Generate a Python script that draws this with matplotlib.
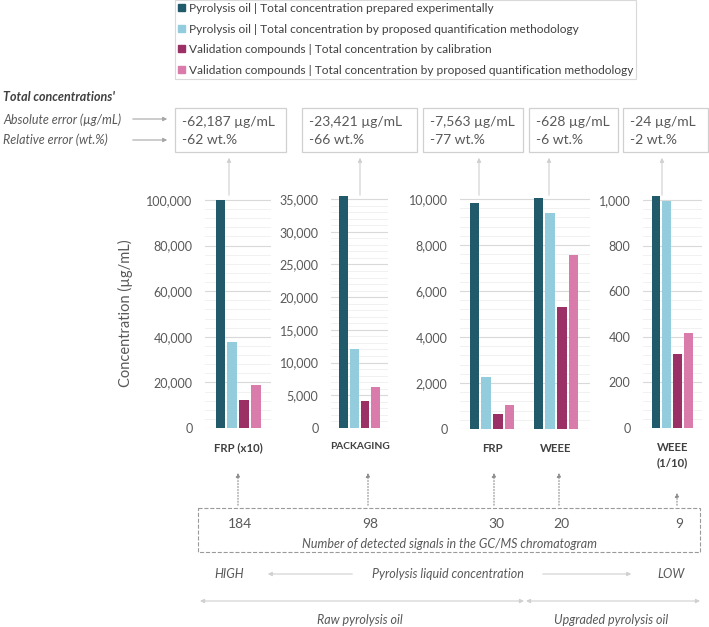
import numpy as np
import matplotlib
matplotlib.use("Agg")
import matplotlib.pyplot as plt
import matplotlib.ticker as mtick
from matplotlib.patches import Rectangle

plt.rcParams['font.family'] = ['Lato', 'DejaVu Sans']

# --- data ---
series = [
    "Pyrolysis oil | Total concentration prepared experimentally",
    "Pyrolysis oil | Total concentration by proposed quantification methodology",
    "Validation compounds | Total concentration by calibration",
    "Validation compounds | Total concentration by proposed quantification methodology",
]
colors = ['#215a6a', '#93cddd', '#9b3066', '#d97bab']

frp_x10 = [100000, 37813, 12300, 19000]
packaging = [35500, 12079, 4150, 6300]
frp = [9822, 2259, 650, 1050]
weee = [10030, 9402, 5300, 7560]
weee_1_10 = [1019, 995, 325, 417]

abs_err = ["-62,187", "-23,421", "-7,563", "-628", "-24"]
rel_err = [-62, -66, -77, -6, -2]
signals = [184, 98, 30, 20, 9]

W, H = 709, 627
TXT = '#595959'
fig = plt.figure(figsize=(W / 100, H / 100), dpi=100)

# overlay in pixel coordinates for the annotations
ov = fig.add_axes([0, 0, 1, 1])
ov.set_xlim(0, W)
ov.set_ylim(H, 0)
ov.axis('off')


def make_panel(x0, x1, y_zero, y_top, top_val, step, minor, c0, pitch):
    """Create an axis with its y scale matching the reference pixel layout."""
    ymax = top_val * 1.04
    ppu = (y_zero - y_top) / top_val
    ax_top = y_zero - ymax * ppu
    ax = fig.add_axes([x0 / W, 1 - y_zero / H, (x1 - x0) / W, (y_zero - ax_top) / H])
    ax.set_ylim(0, ymax)
    ax.set_xlim((x0 - c0) / pitch, (x1 - c0) / pitch)
    ax.set_yticks(np.arange(0, top_val + 1, step))
    ax.set_yticks(np.arange(0, top_val + 1, minor), minor=True)
    ax.yaxis.set_major_formatter(mtick.FuncFormatter(lambda v, p: f'{v:,.0f}'))
    ax.grid(which='major', axis='y', color='#d9d9d9', lw=0.8)
    ax.grid(which='minor', axis='y', color='#efefef', lw=0.6)
    ax.set_axisbelow(True)
    for s in ax.spines.values():
        s.set_visible(False)
    ax.tick_params(axis='y', which='both', length=0, pad=9, labelsize=9, labelcolor=TXT)
    ax.tick_params(axis='x', length=0, pad=10, labelsize=8.2, labelcolor='#404040')
    ax.patch.set_alpha(0)
    return ax


def draw_group(ax, vals, offset):
    pos = np.arange(len(vals)) + offset
    ax.bar(pos, vals, width=0.82, color=colors, clip_on=False)
    return pos.mean()


ax1 = make_panel(205, 271, 428, 200, 100000, 20000, 4000, 220.5, 11.8)
c = draw_group(ax1, frp_x10, 0)
ax1.set_xticks([c], ["FRP (x10)"], fontweight='bold')

ax2 = make_panel(331, 388, 428, 199, 35000, 5000, 1000, 343.5, 10.7)
c = draw_group(ax2, packaging, 0)
ax2.set_xticks([c], ["PACKAGING"], fontweight='bold', fontsize=7.3)

ax3 = make_panel(460, 590, 429, 199, 10000, 2000, 400, 474.5, 11.65)
c1 = draw_group(ax3, frp, 0)
c2 = draw_group(ax3, weee, 5.5)
ax3.set_xticks([c1, c2], ["FRP", "WEEE"], fontweight='bold')

ax4 = make_panel(643, 702, 428, 200, 1000, 200, 40, 656, 10.8)
c = draw_group(ax4, weee_1_10, 0)
ax4.set_xticks([c], ["WEEE\n(1/10)"], fontweight='bold', linespacing=1.5)

fig.text(125 / W, 1 - 313 / H, "Concentration (µg/mL)", rotation=90,
         ha='center', va='center', fontsize=10.5, color=TXT)

# legend
handles = [plt.Rectangle((0, 0), 1, 1, color=col) for col in colors]
leg = fig.legend(handles, series, loc='upper left', bbox_to_anchor=(175 / W, 1.0),
                 borderaxespad=0, fontsize=8.6, handlelength=0.55, handleheight=0.55,
                 handletextpad=0.35, labelspacing=0.8, borderpad=0.25, fancybox=False,
                 framealpha=1, edgecolor='#d9d9d9', labelcolor='#404040')
leg.get_frame().set_linewidth(0.8)

# left annotations
ov.text(3, 97, "Total concentrations'", fontsize=9, fontweight='bold', fontstyle='italic',
        color='#404040', va='center')
ov.text(3, 120, "Absolute error (µg/mL)", fontsize=9, fontstyle='italic', color=TXT, va='center')
ov.text(3, 140, "Relative error (wt.%)", fontsize=9, fontstyle='italic', color=TXT, va='center')
for yy in (119, 140):
    ov.annotate('', xy=(170, yy), xytext=(130, yy),
                arrowprops=dict(arrowstyle='-|>', color='#a6a6a6', lw=0.8, mutation_scale=6))

# error boxes
boxes = [(175, 286), (302, 417), (423, 523), (529, 618), (623, 708)]
box_arrow_x = [229, 360, 479, 549, 662]
for (bx0, bx1), ea, er, axx in zip(boxes, abs_err, rel_err, box_arrow_x):
    ov.add_patch(Rectangle((bx0, 108), bx1 - bx0, 44, fill=False, ec='#d0d0d0', lw=0.9))
    ov.text(bx0 + 7, 122, f"{ea} µg/mL", fontsize=10, color=TXT, va='center')
    ov.text(bx0 + 7, 140, f"{er} wt.%", fontsize=10, color=TXT, va='center')
    ov.annotate('', xy=(axx, 155), xytext=(axx, 198),
                arrowprops=dict(arrowstyle='-|>', color='#d0d0d0', lw=0.8, mutation_scale=6))

# detected signals
sig_x = [238, 368, 494, 559, 677]
sig_head = [470, 470, 470, 470, 490]
for sx, sh, n in zip(sig_x, sig_head, signals):
    ov.annotate('', xy=(sx, sh), xytext=(sx, 508),
                arrowprops=dict(arrowstyle='-|>', color='#8c8c8c', lw=0.8, ls=':',
                                mutation_scale=6))
    ov.text(sx + 2, 524, str(n), fontsize=10, color=TXT, ha='center', va='center')
ov.add_patch(Rectangle((198, 508), 502, 44, fill=False, ec='#9a9a9a', lw=0.8, ls='--'))
ov.text(450, 544, "Number of detected signals in the GC/MS chromatogram", fontsize=9,
        fontstyle='italic', color=TXT, ha='center', va='center')

# concentration scale
ov.text(214, 574, "HIGH", fontsize=9, fontstyle='italic', color=TXT, va='center')
ov.text(657, 574, "LOW", fontsize=9, fontstyle='italic', color=TXT, va='center')
ov.text(448, 574, "Pyrolysis liquid concentration", fontsize=9, fontstyle='italic',
        color=TXT, ha='center', va='center')
ov.annotate('', xy=(265, 574), xytext=(355, 574),
            arrowprops=dict(arrowstyle='-|>', color='#d0d0d0', lw=0.8, mutation_scale=6))
ov.annotate('', xy=(634, 574), xytext=(540, 574),
            arrowprops=dict(arrowstyle='-|>', color='#d0d0d0', lw=0.8, mutation_scale=6))

# oil type ranges
ov.annotate('', xy=(200, 601), xytext=(524, 601),
            arrowprops=dict(arrowstyle='<|-|>', color='#d0d0d0', lw=0.8, mutation_scale=6,
                            shrinkA=0, shrinkB=0))
ov.annotate('', xy=(526, 601), xytext=(700, 601),
            arrowprops=dict(arrowstyle='<|-|>', color='#d0d0d0', lw=0.8, mutation_scale=6,
                            shrinkA=0, shrinkB=0))
ov.text(360, 620, "Raw pyrolysis oil", fontsize=9, fontstyle='italic', color=TXT,
        ha='center', va='center')
ov.text(611, 620, "Upgraded pyrolysis oil", fontsize=9, fontstyle='italic', color=TXT,
        ha='center', va='center')

fig.savefig("out.png", dpi=100)
